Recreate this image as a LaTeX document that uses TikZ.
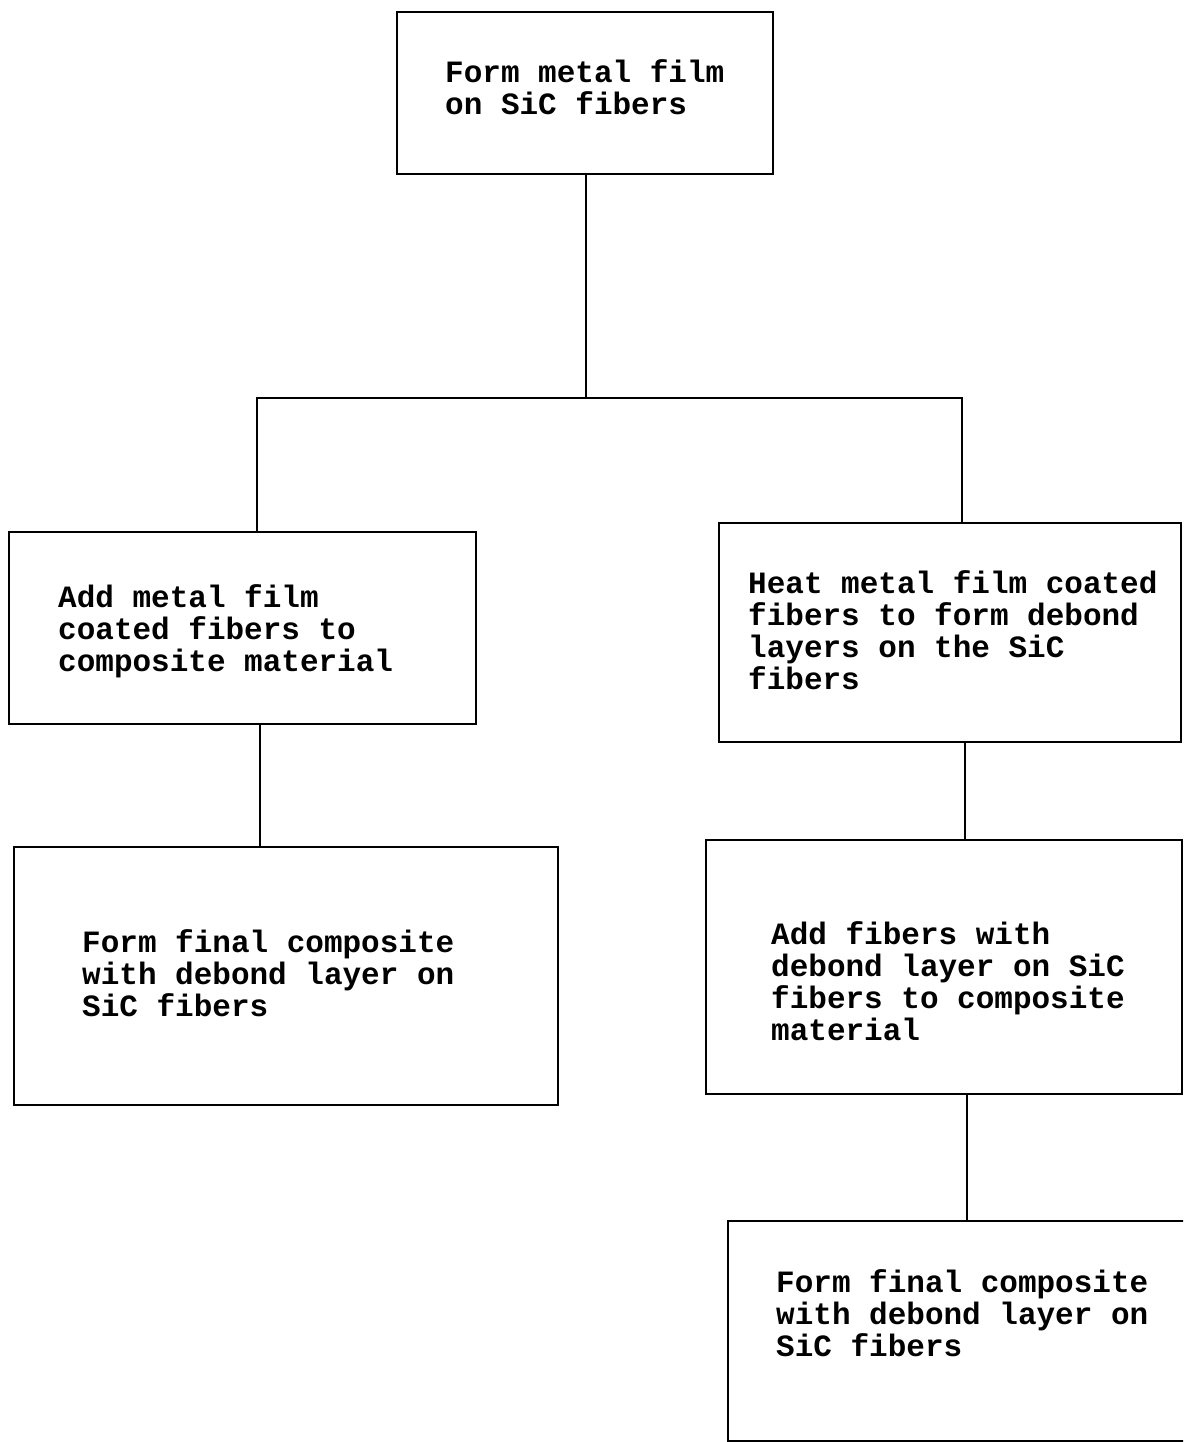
\documentclass[tikz,border=0pt]{standalone}
\usepackage{fontspec}
\setmonofont{Liberation Mono}
\begin{document}
\begin{tikzpicture}[x=1pt,y=-1pt,
  box/.style={draw=black,line width=2.8pt,rectangle,inner sep=0pt,fill=none},
  lbl/.style={anchor=base west,inner sep=0pt,font=\ttfamily\bfseries\fontsize{31}{32}\selectfont},
  conn/.style={draw=black,line width=2.8pt}]
\useasboundingbox (0,0) rectangle (1183,1442);
\clip (0,0) rectangle (1183,1442);
\fill[white] (0,0) rectangle (1183,1442);
% boxes
\node[box,minimum width=376pt,minimum height=162pt] (b1) at (585,93) {};
\node[box,minimum width=467pt,minimum height=192pt] (b2) at (242.5,628) {};
\node[box,minimum width=462pt,minimum height=219pt] (b3) at (950,632.5) {};
\node[box,minimum width=544pt,minimum height=258pt] (b4) at (286,976) {};
\node[box,minimum width=476pt,minimum height=254pt] (b5) at (944,967) {};
\node[box,minimum width=472pt,minimum height=220pt] (b6) at (964,1331) {};
% texts
\node[lbl] (t1) at (445,83) {\parbox[t]{400pt}{\raggedright Form metal film\\on SiC fibers}};
\node[lbl] (t2) at (58,607) {\parbox[t]{420pt}{\raggedright Add metal film\\coated fibers to\\composite material}};
\node[lbl] (t3) at (748,593) {\parbox[t]{440pt}{\raggedright Heat metal film coated\\fibers to form debond\\layers on the SiC\\fibers}};
\node[lbl] (t4) at (82,952) {\parbox[t]{440pt}{\raggedright Form final composite\\with debond layer on\\SiC fibers}};
\node[lbl] (t5) at (771,944) {\parbox[t]{420pt}{\raggedright Add fibers with\\debond layer on SiC\\fibers to composite\\material}};
\node[lbl] (t6) at (776,1292) {\parbox[t]{420pt}{\raggedright Form final composite\\with debond layer on\\SiC fibers}};
% connectors
\coordinate (j) at (586,398);
\coordinate (jl) at (257,398);
\coordinate (jr) at (962,398);
\draw[conn] (b1.south -| j) -- (j);
\draw[conn] (b2.north -| jl) -- (jl) -- (jr) -- (b3.north -| jr);
\coordinate (c24) at (260,0);
\draw[conn] (b2.south -| c24) -- (b4.north -| c24);
\coordinate (c35) at (965,0);
\draw[conn] (b3.south -| c35) -- (b5.north -| c35);
\coordinate (c56) at (967,0);
\draw[conn] (b5.south -| c56) -- (b6.north -| c56);
\end{tikzpicture}
\end{document}
